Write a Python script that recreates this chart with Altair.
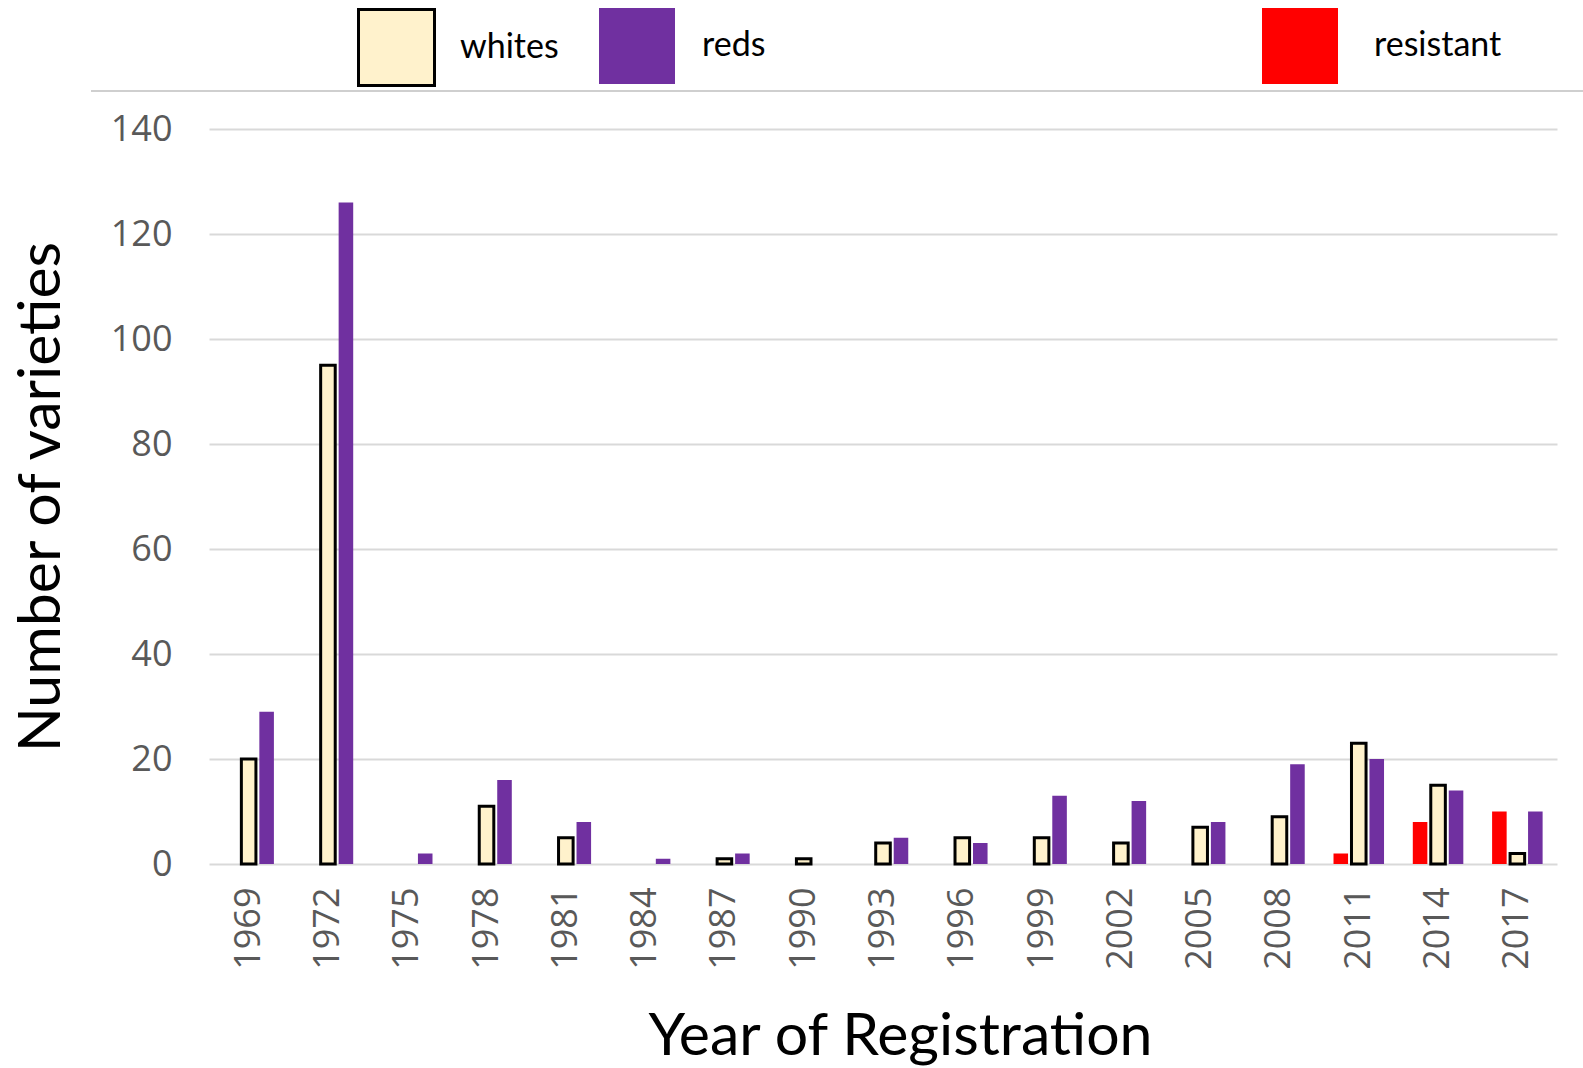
import altair as alt
import pandas as pd

years = ["1969", "1972", "1975", "1978", "1981", "1984", "1987", "1990", "1993",
         "1996", "1999", "2002", "2005", "2008", "2011", "2014", "2017"]
whites = [20, 95, 0, 11, 5, 0, 1, 1, 4, 5, 5, 4, 7, 9, 23, 15, 2]
reds = [29, 126, 2, 16, 8, 1, 2, 0, 5, 4, 13, 12, 8, 19, 20, 14, 10]
resistant = [0, 0, 0, 0, 0, 0, 0, 0, 0, 0, 0, 0, 0, 0, 2, 8, 10]

series_order = ["resistant", "whites", "reds"]

rows = []
for i, y in enumerate(years):
    for name, vals in (("resistant", resistant), ("whites", whites), ("reds", reds)):
        if vals[i] > 0:
            rows.append({"year": y, "series": name, "value": vals[i]})
df = pd.DataFrame(rows)

LABEL_FONT = "Open Sans"
TITLE_FONT = "Lato"

x_enc = alt.X("year:N", sort=years,
              scale=alt.Scale(paddingInner=0, paddingOuter=0),
              axis=alt.Axis(title="Year of Registration", labelAngle=-90,
                            labelFont=LABEL_FONT, labelFontSize=36,
                            labelColor="#595959", labelPadding=23,
                            titleFont=TITLE_FONT, titleFontSize=59,
                            titleFontWeight="normal", titleColor="black",
                            titlePadding=38, titleX=691, titleAlign="center",
                            domain=False, ticks=False, grid=False))
y_enc = alt.Y("value:Q",
              scale=alt.Scale(domain=[0, 140], nice=False),
              axis=alt.Axis(title="Number of varieties", values=list(range(0, 141, 20)),
                            labelFont=LABEL_FONT, labelFontSize=36,
                            labelColor="#595959", labelPadding=37,
                            titleFont=TITLE_FONT, titleFontSize=59,
                            titleFontWeight="normal", titleColor="black",
                            titlePadding=39, domain=False, ticks=False,
                            grid=True, gridColor="#D9D9D9", gridWidth=2))
xoff_enc = alt.XOffset("series:N", sort=series_order,
                       scale=alt.Scale(domain=series_order, paddingInner=0.19,
                                       paddingOuter=0.8))


def legend(x, offset, **kw):
    return alt.Legend(orient="none", direction="horizontal", title=None,
                      legendX=x, legendY=-121,
                      symbolType="square", symbolSize=5776,
                      labelFont=TITLE_FONT, labelFontSize=34, labelColor="black",
                      labelOffset=offset, **kw)


def series_layer(name, color, leg, **mark_kw):
    return alt.Chart(df[df["series"] == name]).mark_bar(**mark_kw).encode(
        x=x_enc, y=y_enc, xOffset=xoff_enc,
        fill=alt.Fill("series:N",
                      scale=alt.Scale(domain=[name], range=[color]),
                      legend=leg),
    )


bars_res = series_layer("resistant", "#FF0000",
                        legend(1053, 36, symbolStrokeWidth=0))
bars_whites = series_layer("whites", "#FFF2CC",
                           legend(148, 24, symbolStrokeWidth=3, symbolStrokeColor="black",
                                  symbolFillColor="#FFFFBF"),
                           stroke="black", strokeWidth=3)
bars_reds = series_layer("reds", "#7030A0",
                         legend(390, 27, symbolStrokeWidth=0))

top_rule = alt.Chart(alt.Data(values=[{}])).mark_rule(color="#BFBFBF", strokeWidth=1.5).encode(
    x=alt.value(-118), x2=alt.value(1374), y=alt.value(-38)
)

chart = alt.layer(bars_res, bars_whites, bars_reds, top_rule).resolve_scale(
    fill="independent"
).properties(
    width=1348, height=735,
    background="white",
    autosize=alt.AutoSizeParams(type="none"),
    padding={"left": 209, "top": 129, "right": 26, "bottom": 204},
).configure_view(strokeWidth=0, stroke="transparent")

chart.save("out.html", embed_options={"renderer": "svg", "actions": False})
